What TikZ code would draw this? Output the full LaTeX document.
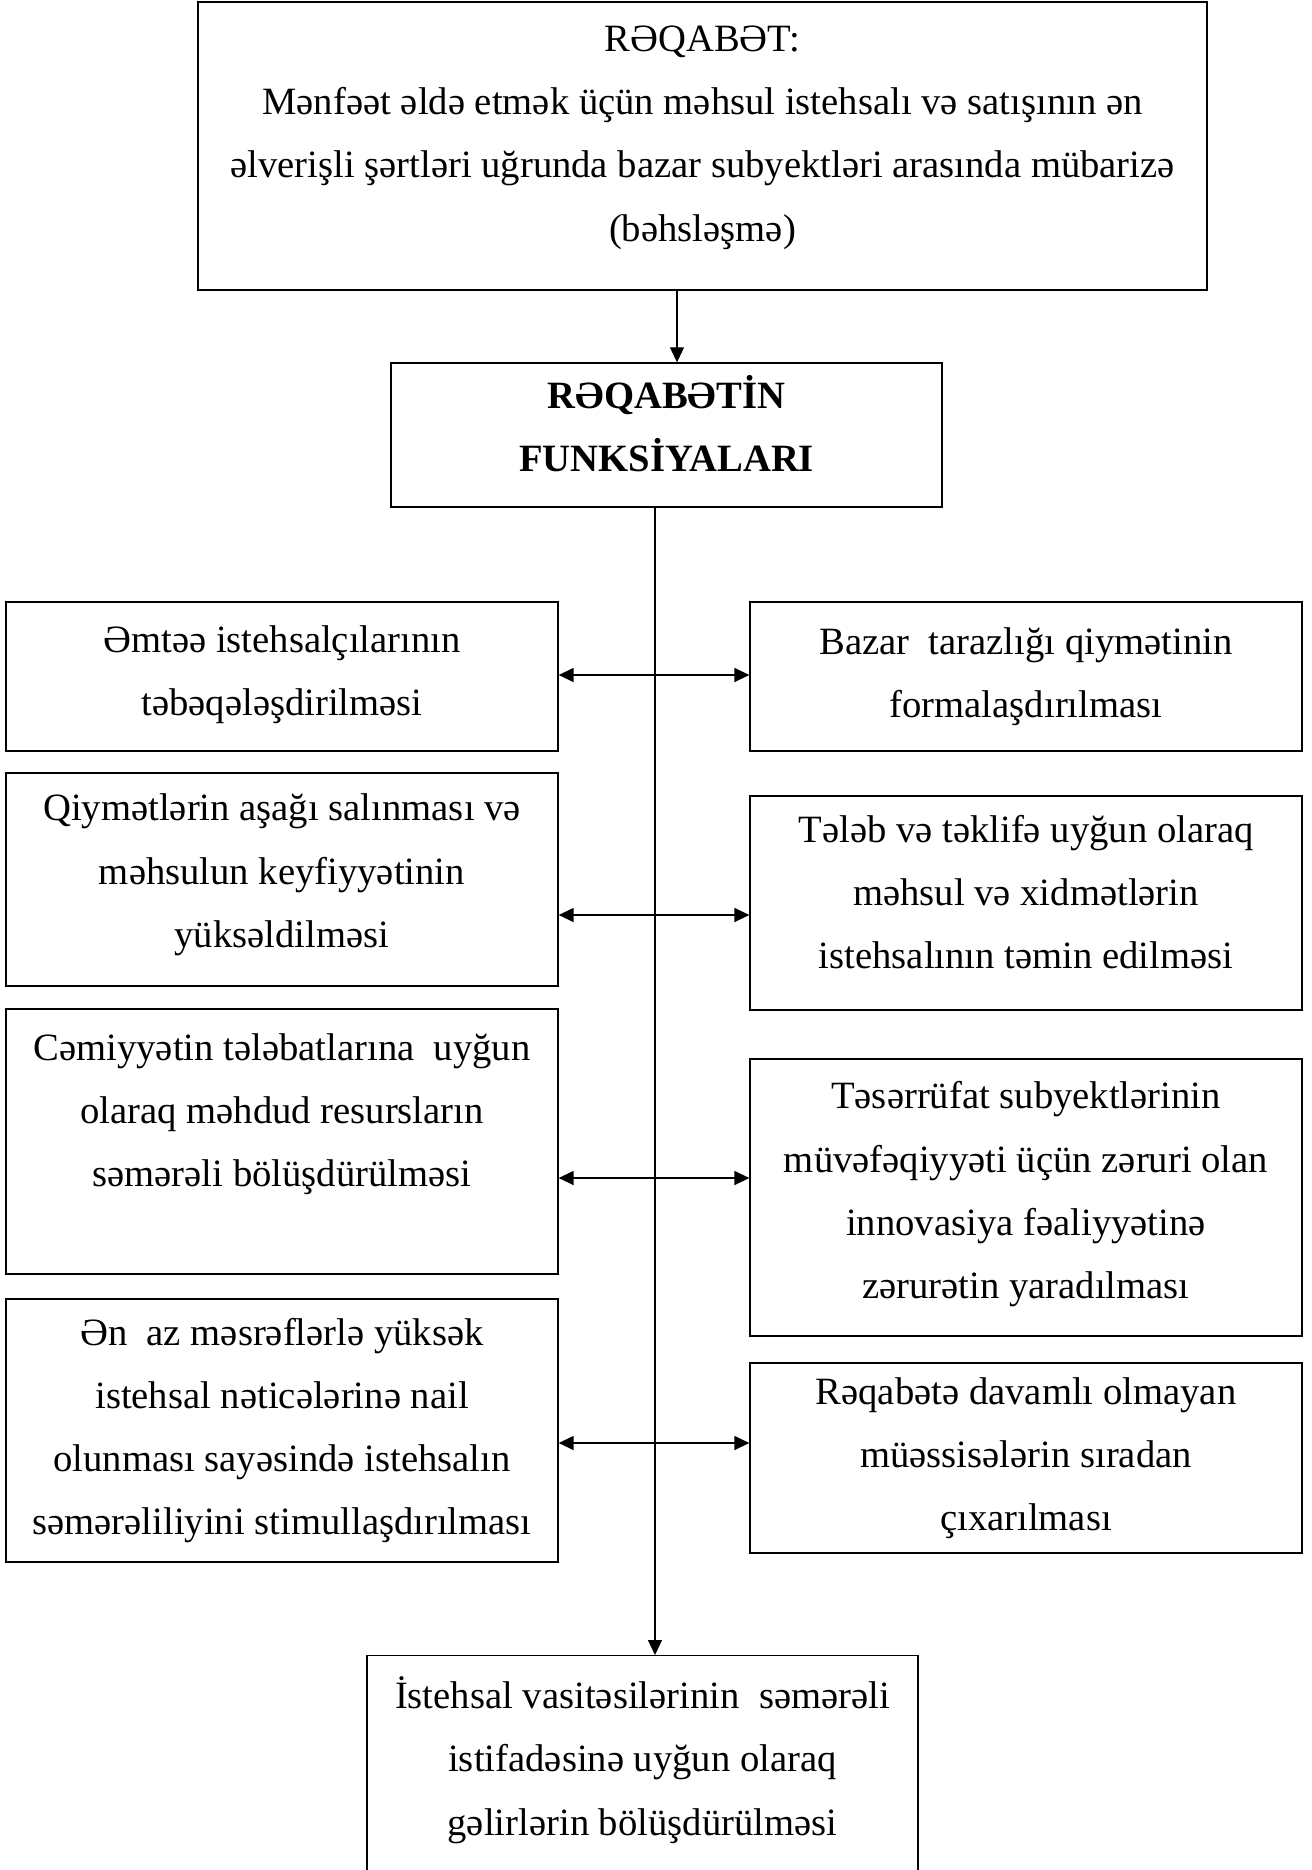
\documentclass[tikz,border=0pt]{standalone}
\usepackage{fontspec}
\setmainfont{Liberation Serif}
\usetikzlibrary{arrows.meta}

\begin{document}
\begin{tikzpicture}[x=0.02cm,y=-0.02cm,
    font=\fontsize{22}{36}\selectfont,
    >={Triangle[length=0.3cm,width=0.28cm]},
    funcbox/.style={draw,line width=0.8pt,align=center,inner sep=0pt},
    leftbox/.style={funcbox,minimum width=11.04cm},
    rightbox/.style={funcbox,minimum width=11.04cm}]
  \useasboundingbox (0,0) rectangle (1312,1870);
  \node[funcbox,minimum width=20.18cm,minimum height=5.76cm,text depth=0.5cm] (reqabet) at (702.5,146)
    {RƏQABƏT:\\
     Mənfəət əldə etmək üçün məhsul istehsalı və satışının ən\\
     əlverişli şərtləri uğrunda bazar subyektləri arasında mübarizə\\
     (bəhsləşmə)};
  \node[funcbox,font=\fontsize{22}{36}\selectfont\bfseries,minimum width=11.02cm,minimum height=2.88cm,text depth=0.45cm] (funk) at (666.5,435)
    {RƏQABƏTİN\\ FUNKSİYALARI};
  % sol sutun
  \node[leftbox,minimum height=2.98cm,text depth=0.25cm] (sol1) at (282,676.5)
    {Əmtəə istehsalçılarının\\ təbəqələşdirilməsi};
  \node[leftbox,minimum height=4.26cm,text depth=0.35cm] (sol2) at (282,879.5)
    {Qiymətlərin aşağı salınması və\\ məhsulun keyfiyyətinin\\ yüksəldilməsi};
  \node[leftbox,minimum height=5.3cm] (sol3) at (282,1141.5)
    {Cəmiyyətin tələbatlarına\ \ uyğun\\ olaraq məhdud resursların\\ səmərəli bölüşdürülməsi\\ \mbox{}};
  \node[leftbox,minimum height=5.26cm] (sol4) at (282,1430.5)
    {Ən\ \ az məsrəflərlə yüksək\\ istehsal nəticələrinə nail\\ olunması sayəsində istehsalın\\ səmərəliliyini stimullaşdırılması};
  % sag sutun
  \node[rightbox,minimum height=2.98cm] (sag1) at (1026,676.5)
    {Bazar\ \ tarazlığı qiymətinin\\ formalaşdırılması};
  \node[rightbox,minimum height=4.28cm,text depth=0.45cm] (sag2) at (1026,903)
    {Tələb və təklifə uyğun olaraq\\ məhsul və xidmətlərin\\ istehsalının təmin edilməsi};
  \node[rightbox,minimum height=5.54cm,text depth=0.3cm] (sag3) at (1026,1197.5)
    {Təsərrüfat subyektlərinin\\ müvəfəqiyyəti üçün zəruri olan\\ innovasiya fəaliyyətinə\\ zərurətin yaradılması};
  \node[rightbox,minimum height=3.8cm] (sag4) at (1026,1458)
    {Rəqabətə davamlı olmayan\\ müəssisələrin sıradan\\ çıxarılması};
  \node[funcbox,minimum width=11.02cm,anchor=north,inner ysep=12pt,text depth=4cm] (gelir) at (642.5,1655)
    {İstehsal vasitəsilərinin\ \ səmərəli\\ istifadəsinə uyğun olaraq\\ gəlirlərin bölüşdürülməsi};
  % oxlar
  \coordinate (x1) at (677,0);
  \coordinate (spine) at (655,0);
  \draw[->,line width=0.6pt] (reqabet.south -| x1) -- (funk.north -| x1);
  \draw[->,line width=0.6pt] (funk.south -| spine) -- (gelir.north -| spine);
  \foreach \i/\y in {1/675,2/915,3/1178,4/1443}{
    \coordinate (j\i) at (655,\y);
    \draw[<->,line width=0.8pt] (sol\i.east |- j\i) -- (sag\i.west |- j\i);
  }
\end{tikzpicture}
\end{document}
